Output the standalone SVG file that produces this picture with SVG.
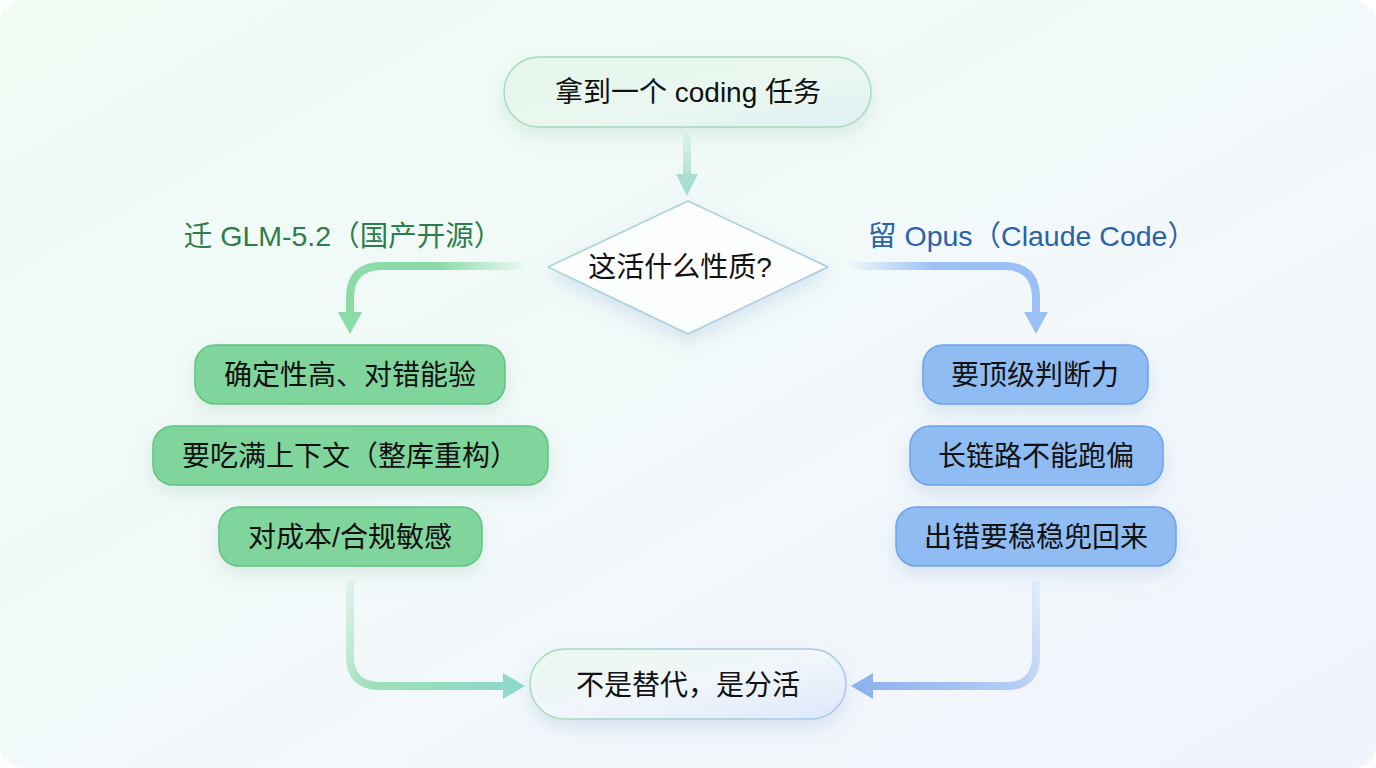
<svg xmlns="http://www.w3.org/2000/svg" width="1376" height="768" viewBox="0 0 1376 768">
<style>
text{font-family:"Liberation Sans","Noto Sans CJK SC",sans-serif;dominant-baseline:central;text-anchor:middle}
.t{font-size:28px;fill:#111}
.lbl{font-size:28.5px}
.g{fill:#80d59c;stroke:#62c283;stroke-width:1.5}
.b{fill:#8fbcf3;stroke:#6fa2e8;stroke-width:1.5}
.c{fill:none;stroke-width:8;stroke-linecap:round}
</style>
<defs>
<linearGradient id="bg" x1="0" y1="0" x2="1" y2="1">
<stop offset="0" stop-color="#effbf3"/>
<stop offset="0.5" stop-color="#f2f9fa"/>
<stop offset="1" stop-color="#f2f4fd"/>
</linearGradient>
<linearGradient id="topf" x1="0" y1="0" x2="1" y2="1">
<stop offset="0" stop-color="#e6f7eb"/>
<stop offset="0.6" stop-color="#e9f7f0"/>
<stop offset="1" stop-color="#dff0f3"/>
</linearGradient>
<linearGradient id="botf" x1="0" y1="0" x2="1" y2="1">
<stop offset="0" stop-color="#e9f8ee"/>
<stop offset="0.5" stop-color="#f1f6fb"/>
<stop offset="1" stop-color="#dce8fb"/>
</linearGradient>
<linearGradient id="botS" x1="0" y1="0" x2="1" y2="0">
<stop offset="0" stop-color="#a6dcbb"/>
<stop offset="1" stop-color="#a9c6ec"/>
</linearGradient>
<linearGradient id="diaS" x1="0" y1="0" x2="1" y2="1">
<stop offset="0" stop-color="#a8dcc8"/>
<stop offset="1" stop-color="#a8c4ee"/>
</linearGradient>
<linearGradient id="lh" gradientUnits="userSpaceOnUse" x1="530" y1="0" x2="440" y2="0">
<stop offset="0" stop-color="#8cdcaa" stop-opacity="0"/>
<stop offset="1" stop-color="#8cdcaa"/>
</linearGradient>
<linearGradient id="rh" gradientUnits="userSpaceOnUse" x1="846" y1="0" x2="936" y2="0">
<stop offset="0" stop-color="#9cc0f5" stop-opacity="0"/>
<stop offset="1" stop-color="#9cc0f5"/>
</linearGradient>
<linearGradient id="tv" gradientUnits="userSpaceOnUse" x1="0" y1="136" x2="0" y2="180">
<stop offset="0" stop-color="#a9ded2" stop-opacity="0.2"/>
<stop offset="1" stop-color="#a9ded2"/>
</linearGradient>
<linearGradient id="lb" gradientUnits="userSpaceOnUse" x1="350" y1="580" x2="510" y2="686">
<stop offset="0" stop-color="#9ee0b6" stop-opacity="0.2"/>
<stop offset="0.4" stop-color="#9ee0b6"/>
<stop offset="1" stop-color="#8ed8cc"/>
</linearGradient>
<linearGradient id="rb" gradientUnits="userSpaceOnUse" x1="1036" y1="580" x2="870" y2="686">
<stop offset="0" stop-color="#a9c8f5" stop-opacity="0.2"/>
<stop offset="0.4" stop-color="#b0cdf5"/>
<stop offset="1" stop-color="#8fb3ee"/>
</linearGradient>
<filter id="sh" x="-20%" y="-40%" width="140%" height="190%">
<feDropShadow dx="0" dy="8" stdDeviation="9" flood-color="#6aa88a" flood-opacity="0.18"/>
</filter>
<filter id="shb" x="-20%" y="-40%" width="140%" height="190%">
<feDropShadow dx="0" dy="8" stdDeviation="9" flood-color="#6a8fc8" flood-opacity="0.2"/>
</filter>
<marker id="mT" markerUnits="userSpaceOnUse" markerWidth="26" markerHeight="22" refX="2" refY="11" orient="auto">
<path d="M0,0 L22,11 L0,22 Z" fill="#a9ded2"/>
</marker>
<marker id="mG" markerUnits="userSpaceOnUse" markerWidth="26" markerHeight="26" refX="2" refY="12" orient="auto">
<path d="M0,0 L22,12 L0,24 Z" fill="#8cdcaa"/>
</marker>
<marker id="mB" markerUnits="userSpaceOnUse" markerWidth="26" markerHeight="26" refX="2" refY="12" orient="auto">
<path d="M0,0 L22,12 L0,24 Z" fill="#9cc0f5"/>
</marker>
<marker id="mGT" markerUnits="userSpaceOnUse" markerWidth="26" markerHeight="30" refX="2" refY="13" orient="auto">
<path d="M0,0 L22,13 L0,26 Z" fill="#8ed8cc"/>
</marker>
<marker id="mBB" markerUnits="userSpaceOnUse" markerWidth="26" markerHeight="30" refX="2" refY="13" orient="auto">
<path d="M0,0 L22,13 L0,26 Z" fill="#8fb3ee"/>
</marker>
</defs>

<rect x="0" y="0" width="1376" height="768" fill="#ffffff"/>
<rect x="0" y="0" width="1376" height="768" rx="22" fill="url(#bg)"/>

<g id="connectors">
<path class="c" d="M687,138 V176" stroke="url(#tv)" marker-end="url(#mT)"/>
<path class="c" d="M530,266 H382 Q350,266 350,298 V314" stroke="url(#lh)" marker-end="url(#mG)"/>
<path class="c" d="M846,266 H1004 Q1036,266 1036,298 V314" stroke="url(#rh)" marker-end="url(#mB)"/>
<path class="c" d="M350,584 V656 Q350,686 380,686 H505" stroke="url(#lb)" marker-end="url(#mGT)"/>
<path class="c" d="M1036,584 V656 Q1036,686 1006,686 H871" stroke="url(#rb)" marker-end="url(#mBB)"/>
</g>

<g id="start">
<rect x="504" y="57" width="367" height="70" rx="35" fill="url(#topf)" stroke="#a6d9bd" stroke-width="1.5" filter="url(#sh)"/>
<text class="t" x="688" y="92">拿到一个 coding 任务</text>
</g>

<g id="decision">
<path d="M688,201 L828,267 L688,334 L548,267 Z" fill="#fbfefd" stroke="url(#diaS)" stroke-width="1.5" stroke-linejoin="round" filter="url(#shb)"/>
<text class="t" x="680" y="267">这活什么性质?</text>
</g>

<g id="label-left">
<text class="lbl" x="343" y="236" fill="#2e7d4a">迁 GLM-5.2（国产开源）</text>
</g>
<g id="label-right">
<text class="lbl" x="1032" y="236" fill="#2b62a8">留 Opus（Claude Code）</text>
</g>

<g id="l1"><rect class="g" x="195" y="345" width="310" height="59" rx="20" filter="url(#sh)"/><text class="t" x="350" y="375">确定性高、对错能验</text></g>
<g id="l2"><rect class="g" x="153" y="426" width="395" height="59" rx="20" filter="url(#sh)"/><text class="t" x="350" y="456">要吃满上下文（整库重构）</text></g>
<g id="l3"><rect class="g" x="219" y="507" width="263" height="59" rx="20" filter="url(#sh)"/><text class="t" x="350" y="537">对成本/合规敏感</text></g>

<g id="r1"><rect class="b" x="923" y="345" width="225" height="59" rx="20" filter="url(#shb)"/><text class="t" x="1035" y="375">要顶级判断力</text></g>
<g id="r2"><rect class="b" x="910" y="426" width="253" height="59" rx="20" filter="url(#shb)"/><text class="t" x="1036" y="456">长链路不能跑偏</text></g>
<g id="r3"><rect class="b" x="896" y="507" width="280" height="59" rx="20" filter="url(#shb)"/><text class="t" x="1036" y="537">出错要稳稳兜回来</text></g>

<g id="end">
<rect x="530" y="649" width="316" height="70" rx="35" fill="url(#botf)" stroke="url(#botS)" stroke-width="1.5" filter="url(#shb)"/>
<text class="t" x="688" y="685">不是替代，是分活</text>
</g>
</svg>
